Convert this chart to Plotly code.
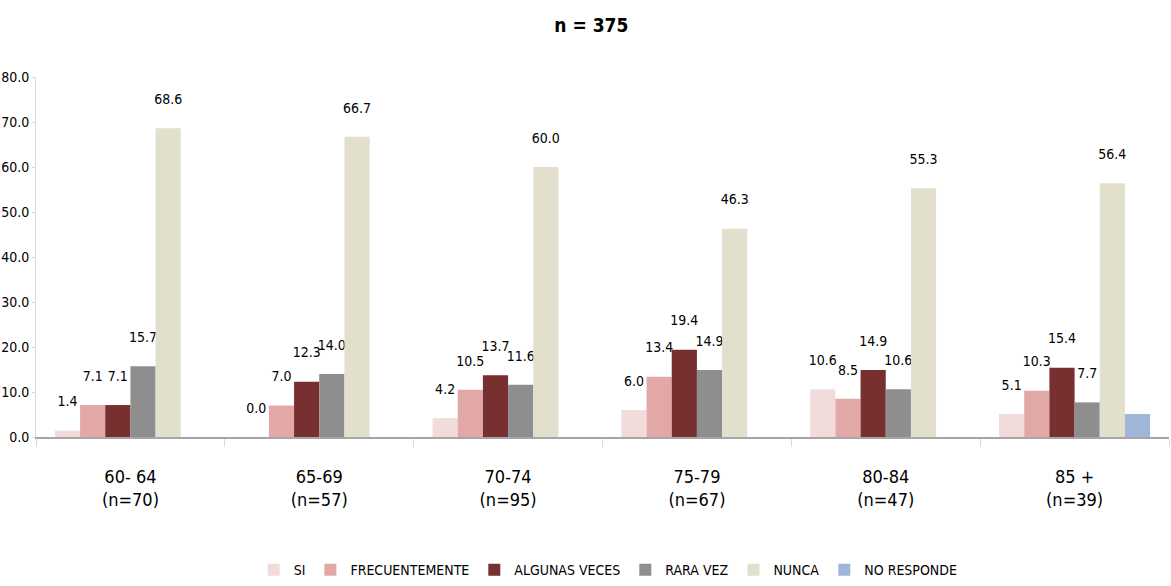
import plotly.graph_objects as go

# Age groups (with sample sizes) on the category axis
categories = ["60- 64<br>(n=70)", "65-69<br>(n=57)", "70-74<br>(n=95)",
              "75-79<br>(n=67)", "80-84<br>(n=47)", "85 +<br>(n=39)"]

# Percentages per answer
si = [1.4, 0.0, 4.2, 6.0, 10.6, 5.1]
frecuentemente = [7.1, 7.0, 10.5, 13.4, 8.5, 10.3]
algunas_veces = [7.1, 12.3, 13.7, 19.4, 14.9, 15.4]
rara_vez = [15.7, 14.0, 11.6, 14.9, 10.6, 7.7]
nunca = [68.6, 66.7, 60.0, 46.3, 55.3, 56.4]
no_responde = [None, None, None, None, None, 5.1]

y_ticks = [0, 10, 20, 30, 40, 50, 60, 70, 80]

FAMILY = "DejaVu Sans Condensed, Liberation Sans Narrow, sans-serif"


def font(size, **kw):
    return dict(family=FAMILY, size=size, color="#000000", **kw)


series = [
    ("SI", si, "#F2DCDB", True),
    ("FRECUENTEMENTE", frecuentemente, "#E2A8A7", True),
    ("ALGUNAS VECES", algunas_veces, "#772F2F", True),
    ("RARA VEZ", rara_vez, "#8E8E8E", True),
    ("NUNCA", nunca, "#E2DFCC", True),
    ("NO RESPONDE", no_responde, "#A0B6D8", False),
]

fig = go.Figure()
for name, vals, color, labelled in series:
    fig.add_trace(go.Bar(
        name=name,
        x=categories,
        y=vals,
        marker=dict(color=color, line=dict(width=0)),
        texttemplate="%{y:.1f}<br> " if labelled else None,
        textposition="outside" if labelled else "none",
        constraintext="none",
        textfont=font(14),
        cliponaxis=False,
    ))

fig.update_layout(
    barmode="group",
    bargap=0.2,
    bargroupgap=0,
    width=1171,
    height=586,
    paper_bgcolor="white",
    plot_bgcolor="white",
    margin=dict(l=36, r=2, t=77, b=149, autoexpand=False),
    font=font(15),
    title=dict(text="<b>n = 375</b>", x=0.505, xanchor="center",
               y=0.957, yanchor="middle", font=font(19)),
    legend=dict(orientation="h", x=0.505, xanchor="center", y=-0.37,
                yanchor="middle", font=font(14),
                itemwidth=30, tracegroupgap=0),
    xaxis=dict(
        showline=True, linecolor="#A6A6A6", linewidth=2,
        ticks="outside", tickson="boundaries", ticklen=8,
        tickcolor="#D9D9D9", tickwidth=1,
        showgrid=False, tickfont=font(18), ticklabelstandoff=22,
        automargin=False,
    ),
    yaxis=dict(
        range=[0, 80], tickvals=y_ticks, tickformat=".1f",
        showline=True, linecolor="#D9D9D9", linewidth=1,
        ticks="outside", ticklen=3, tickcolor="#D9D9D9",
        showgrid=False, zeroline=False, automargin=False,
        tickfont=font(14),
    ),
)

fig.write_html("out.html")
